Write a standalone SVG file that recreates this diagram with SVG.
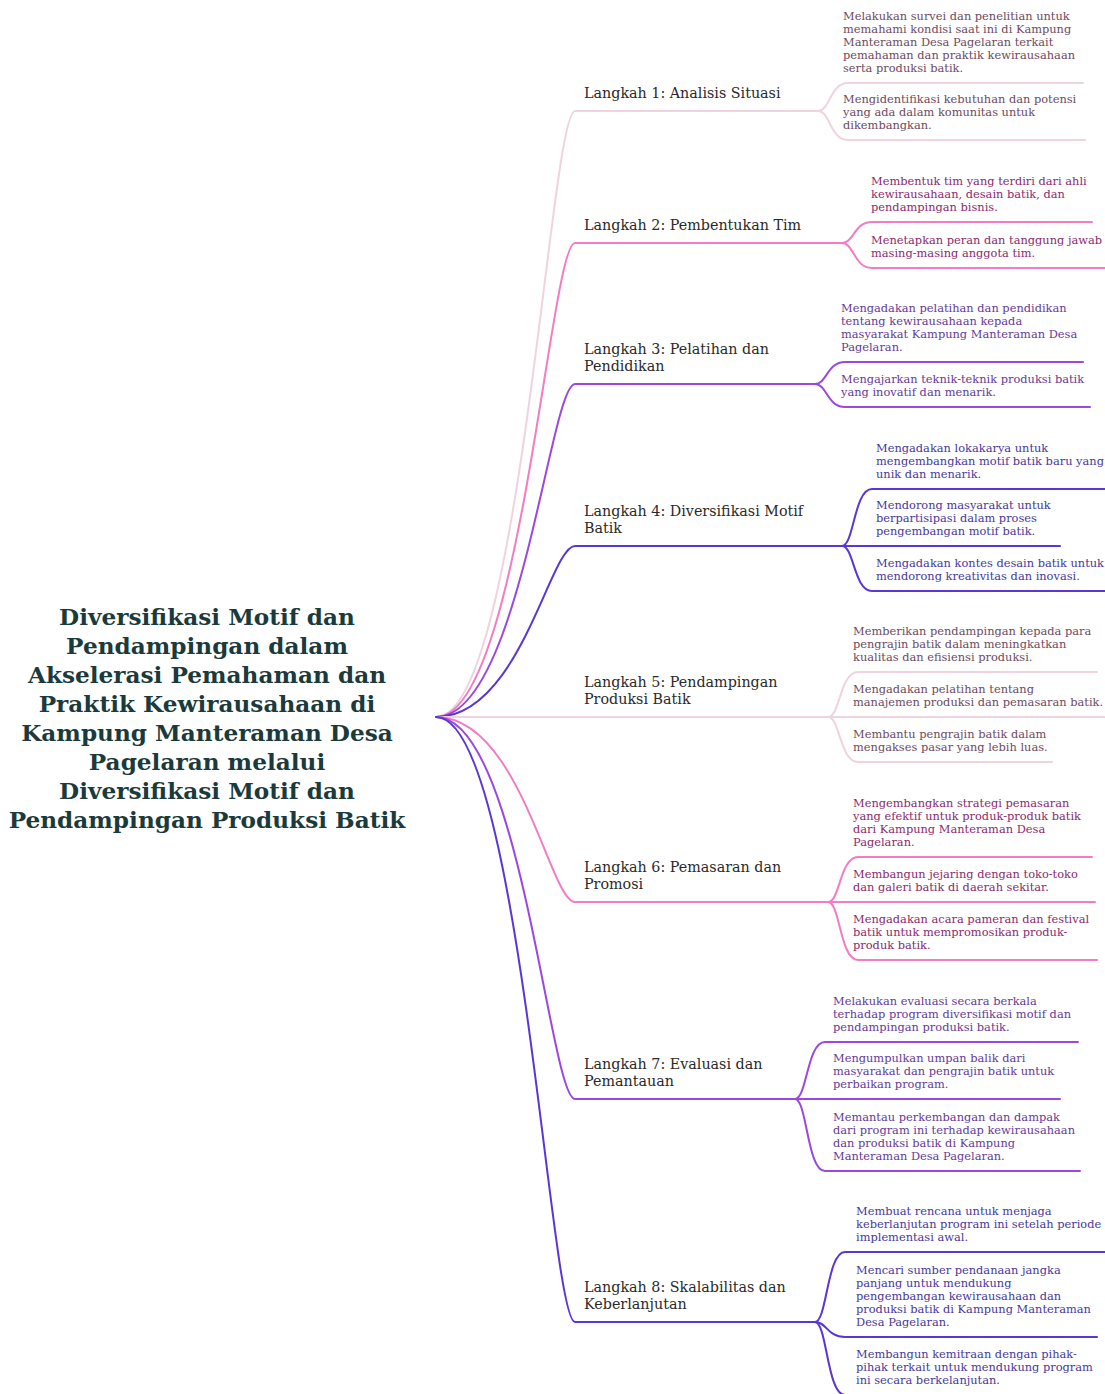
<svg xmlns="http://www.w3.org/2000/svg" width="1105" height="1394" viewBox="0 0 1105 1394">
<style>
.bg{fill:#ffffff}
.c{fill:none;stroke-width:2;stroke-linecap:round}
.p1{stroke:#efd3e1}
.p2{stroke:#f37cc2}
.p3{stroke:#9a48e0}
.p4{stroke:#5a36d6}
.title{font-family:"DejaVu Serif","Liberation Serif",serif;font-weight:bold;font-size:23.2px;fill:#1b3a3c;text-anchor:middle}
.step{font-family:"DejaVu Serif","Liberation Serif",serif;font-size:14.3px;fill:#2a2a2a}
.leaf{font-family:"DejaVu Serif","Liberation Serif",serif;font-size:11.4px}
.t1{fill:#6e4a60}
.t2{fill:#8c2a6c}
.t3{fill:#663a96}
.t4{fill:#47389a}
</style>
<rect class="bg" x="0" y="0" width="1105" height="1394"/>
<g id="connectors">
  <path class="c p1" d="M436,717 C520,717 550,111 575,111 H818"/>
  <path class="c p2" d="M436,717 C520,717 550,243 575,243 H842"/>
  <path class="c p3" d="M436,717 C520,717 550,384 575,384 H815"/>
  <path class="c p4" d="M436,717 C520,717 550,546 575,546 H842"/>
  <path class="c p1" d="M436,717 H828"/>
  <path class="c p2" d="M436,717 C520,717 550,902 575,902 H828"/>
  <path class="c p3" d="M436,717 C520,717 550,1099 575,1099 H795"/>
  <path class="c p4" d="M436,717 C520,717 550,1322 575,1322 H815"/>

  <path class="c p1" d="M818,111 C830,111 830,83 848,83 H1083"/>
  <path class="c p1" d="M818,111 C830,111 830,140 848,140 H1085"/>

  <path class="c p2" d="M842,243 C854,243 854,222 872,222 H1092"/>
  <path class="c p2" d="M842,243 C854,243 854,268 872,268 H1105"/>

  <path class="c p3" d="M815,384 C827,384 827,362 845,362 H1083"/>
  <path class="c p3" d="M815,384 C827,384 827,407 845,407 H1090"/>

  <path class="c p4" d="M842,546 C854,546 854,489 872,489 H1105"/>
  <path class="c p4" d="M842,546 H1060"/>
  <path class="c p4" d="M842,546 C854,546 854,591 872,591 H1105"/>

  <path class="c p1" d="M828,717 C840,717 840,672 858,672 H1097"/>
  <path class="c p1" d="M828,717 H1105"/>
  <path class="c p1" d="M828,717 C840,717 840,762 858,762 H1052"/>

  <path class="c p2" d="M828,902 C840,902 840,857 858,857 H1092"/>
  <path class="c p2" d="M828,902 H1095"/>
  <path class="c p2" d="M828,902 C840,902 840,960 858,960 H1097"/>

  <path class="c p3" d="M795,1099 C807,1099 807,1042 825,1042 H1078"/>
  <path class="c p3" d="M795,1099 H1060"/>
  <path class="c p3" d="M795,1099 C807,1099 807,1171 825,1171 H1080"/>

  <path class="c p4" d="M815,1322 C827,1322 827,1252 845,1252 H1105"/>
  <path class="c p4" d="M815,1322 C827,1322 827,1337 845,1337 H1097"/>
  <path class="c p4" d="M815,1322 C827,1322 827,1395 845,1395 H1105"/>
</g>

<g id="root">
  <text class="title" x="207" y="625">Diversifikasi Motif dan</text>
  <text class="title" x="207" y="654">Pendampingan dalam</text>
  <text class="title" x="207" y="683">Akselerasi Pemahaman dan</text>
  <text class="title" x="207" y="712">Praktik Kewirausahaan di</text>
  <text class="title" x="207" y="741">Kampung Manteraman Desa</text>
  <text class="title" x="207" y="770">Pagelaran melalui</text>
  <text class="title" x="207" y="799">Diversifikasi Motif dan</text>
  <text class="title" x="207" y="828">Pendampingan Produksi Batik</text>
</g>

<g id="step1"><text class="step" x="584" y="98">Langkah 1: Analisis Situasi</text></g>
<g id="step2"><text class="step" x="584" y="230">Langkah 2: Pembentukan Tim</text></g>
<g id="step3"><text class="step" x="584" y="354">Langkah 3: Pelatihan dan</text><text class="step" x="584" y="371">Pendidikan</text></g>
<g id="step4"><text class="step" x="584" y="516">Langkah 4: Diversifikasi Motif</text><text class="step" x="584" y="533">Batik</text></g>
<g id="step5"><text class="step" x="584" y="687">Langkah 5: Pendampingan</text><text class="step" x="584" y="704">Produksi Batik</text></g>
<g id="step6"><text class="step" x="584" y="872">Langkah 6: Pemasaran dan</text><text class="step" x="584" y="889">Promosi</text></g>
<g id="step7"><text class="step" x="584" y="1069">Langkah 7: Evaluasi dan</text><text class="step" x="584" y="1086">Pemantauan</text></g>
<g id="step8"><text class="step" x="584" y="1292">Langkah 8: Skalabilitas dan</text><text class="step" x="584" y="1309">Keberlanjutan</text></g>

<g id="s1l1" class="leaf t1">
  <text x="843" y="20">Melakukan survei dan penelitian untuk</text>
  <text x="843" y="33">memahami kondisi saat ini di Kampung</text>
  <text x="843" y="46">Manteraman Desa Pagelaran terkait</text>
  <text x="843" y="59">pemahaman dan praktik kewirausahaan</text>
  <text x="843" y="72">serta produksi batik.</text>
</g>
<g id="s1l2" class="leaf t1">
  <text x="843" y="103">Mengidentifikasi kebutuhan dan potensi</text>
  <text x="843" y="116">yang ada dalam komunitas untuk</text>
  <text x="843" y="129">dikembangkan.</text>
</g>

<g id="s2l1" class="leaf t2">
  <text x="871" y="185">Membentuk tim yang terdiri dari ahli</text>
  <text x="871" y="198">kewirausahaan, desain batik, dan</text>
  <text x="871" y="211">pendampingan bisnis.</text>
</g>
<g id="s2l2" class="leaf t2">
  <text x="871" y="244">Menetapkan peran dan tanggung jawab</text>
  <text x="871" y="257">masing-masing anggota tim.</text>
</g>

<g id="s3l1" class="leaf t3">
  <text x="841" y="312">Mengadakan pelatihan dan pendidikan</text>
  <text x="841" y="325">tentang kewirausahaan kepada</text>
  <text x="841" y="338">masyarakat Kampung Manteraman Desa</text>
  <text x="841" y="351">Pagelaran.</text>
</g>
<g id="s3l2" class="leaf t3">
  <text x="841" y="383">Mengajarkan teknik-teknik produksi batik</text>
  <text x="841" y="396">yang inovatif dan menarik.</text>
</g>

<g id="s4l1" class="leaf t4">
  <text x="876" y="452">Mengadakan lokakarya untuk</text>
  <text x="876" y="465">mengembangkan motif batik baru yang</text>
  <text x="876" y="478">unik dan menarik.</text>
</g>
<g id="s4l2" class="leaf t4">
  <text x="876" y="509">Mendorong masyarakat untuk</text>
  <text x="876" y="522">berpartisipasi dalam proses</text>
  <text x="876" y="535">pengembangan motif batik.</text>
</g>
<g id="s4l3" class="leaf t4">
  <text x="876" y="567">Mengadakan kontes desain batik untuk</text>
  <text x="876" y="580">mendorong kreativitas dan inovasi.</text>
</g>

<g id="s5l1" class="leaf t1">
  <text x="853" y="635">Memberikan pendampingan kepada para</text>
  <text x="853" y="648">pengrajin batik dalam meningkatkan</text>
  <text x="853" y="661">kualitas dan efisiensi produksi.</text>
</g>
<g id="s5l2" class="leaf t1">
  <text x="853" y="693">Mengadakan pelatihan tentang</text>
  <text x="853" y="706">manajemen produksi dan pemasaran batik.</text>
</g>
<g id="s5l3" class="leaf t1">
  <text x="853" y="738">Membantu pengrajin batik dalam</text>
  <text x="853" y="751">mengakses pasar yang lebih luas.</text>
</g>

<g id="s6l1" class="leaf t2">
  <text x="853" y="807">Mengembangkan strategi pemasaran</text>
  <text x="853" y="820">yang efektif untuk produk-produk batik</text>
  <text x="853" y="833">dari Kampung Manteraman Desa</text>
  <text x="853" y="846">Pagelaran.</text>
</g>
<g id="s6l2" class="leaf t2">
  <text x="853" y="878">Membangun jejaring dengan toko-toko</text>
  <text x="853" y="891">dan galeri batik di daerah sekitar.</text>
</g>
<g id="s6l3" class="leaf t2">
  <text x="853" y="923">Mengadakan acara pameran dan festival</text>
  <text x="853" y="936">batik untuk mempromosikan produk-</text>
  <text x="853" y="949">produk batik.</text>
</g>

<g id="s7l1" class="leaf t3">
  <text x="833" y="1005">Melakukan evaluasi secara berkala</text>
  <text x="833" y="1018">terhadap program diversifikasi motif dan</text>
  <text x="833" y="1031">pendampingan produksi batik.</text>
</g>
<g id="s7l2" class="leaf t3">
  <text x="833" y="1062">Mengumpulkan umpan balik dari</text>
  <text x="833" y="1075">masyarakat dan pengrajin batik untuk</text>
  <text x="833" y="1088">perbaikan program.</text>
</g>
<g id="s7l3" class="leaf t3">
  <text x="833" y="1121">Memantau perkembangan dan dampak</text>
  <text x="833" y="1134">dari program ini terhadap kewirausahaan</text>
  <text x="833" y="1147">dan produksi batik di Kampung</text>
  <text x="833" y="1160">Manteraman Desa Pagelaran.</text>
</g>

<g id="s8l1" class="leaf t4">
  <text x="856" y="1215">Membuat rencana untuk menjaga</text>
  <text x="856" y="1228">keberlanjutan program ini setelah periode</text>
  <text x="856" y="1241">implementasi awal.</text>
</g>
<g id="s8l2" class="leaf t4">
  <text x="856" y="1274">Mencari sumber pendanaan jangka</text>
  <text x="856" y="1287">panjang untuk mendukung</text>
  <text x="856" y="1300">pengembangan kewirausahaan dan</text>
  <text x="856" y="1313">produksi batik di Kampung Manteraman</text>
  <text x="856" y="1326">Desa Pagelaran.</text>
</g>
<g id="s8l3" class="leaf t4">
  <text x="856" y="1358">Membangun kemitraan dengan pihak-</text>
  <text x="856" y="1371">pihak terkait untuk mendukung program</text>
  <text x="856" y="1384">ini secara berkelanjutan.</text>
</g>
</svg>
